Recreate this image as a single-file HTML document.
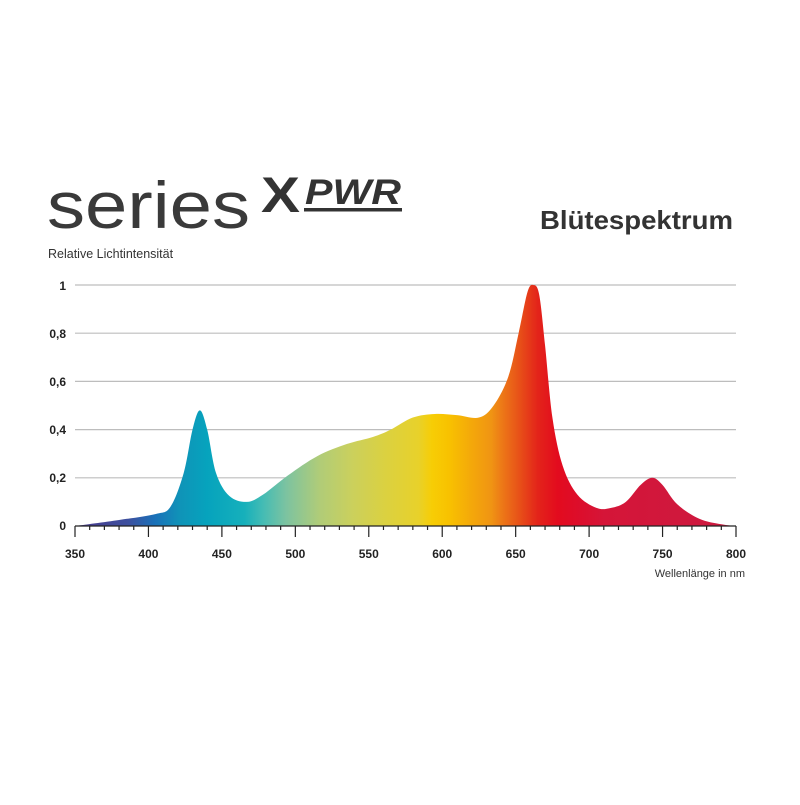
<!DOCTYPE html>
<html><head><meta charset="utf-8"><style>
html,body{margin:0;padding:0;background:#fff;}
body{width:800px;height:800px;overflow:hidden;position:relative;font-family:"Liberation Sans",sans-serif;color:#333;}
</style></head><body>
<svg id="s" width="800" height="800" viewBox="0 0 800 800" xmlns="http://www.w3.org/2000/svg">
<defs>
<linearGradient id="g" gradientUnits="userSpaceOnUse" x1="75" y1="0" x2="736" y2="0">
<stop offset="0" stop-color="#4a3a8c"/>
<stop offset="0.08" stop-color="#3d4f9e"/>
<stop offset="0.12" stop-color="#1a70b8"/>
<stop offset="0.16" stop-color="#0f94b8"/>
<stop offset="0.2" stop-color="#06a3bd"/>
<stop offset="0.256" stop-color="#16b0bb"/>
<stop offset="0.285" stop-color="#45bcb4"/>
<stop offset="0.32" stop-color="#7dc3a0"/>
<stop offset="0.37" stop-color="#b0cc78"/>
<stop offset="0.42" stop-color="#cbd05c"/>
<stop offset="0.47" stop-color="#dbd140"/>
<stop offset="0.52" stop-color="#e8d12a"/>
<stop offset="0.54" stop-color="#f7cd05"/>
<stop offset="0.565" stop-color="#f8c200"/>
<stop offset="0.6" stop-color="#f4a80a"/>
<stop offset="0.63" stop-color="#f09413"/>
<stop offset="0.645" stop-color="#ed7a17"/>
<stop offset="0.67" stop-color="#e85418"/>
<stop offset="0.7" stop-color="#e3241a"/>
<stop offset="0.73" stop-color="#e30b1e"/>
<stop offset="0.76" stop-color="#dd0d2a"/>
<stop offset="0.8" stop-color="#d51538"/>
<stop offset="1" stop-color="#cc1a40"/>
</linearGradient>
</defs>
<g stroke="#bdbdbd" stroke-width="1.2">
<line x1="75" x2="736" y1="285" y2="285"/>
<line x1="75" x2="736" y1="333.2" y2="333.2"/>
<line x1="75" x2="736" y1="381.4" y2="381.4"/>
<line x1="75" x2="736" y1="429.6" y2="429.6"/>
<line x1="75" x2="736" y1="477.8" y2="477.8"/>
</g>
<path id="sp" fill="url(#g)" d=""/>
<g id="ax" stroke="#222" stroke-width="1.2"><line x1="75" x2="736" y1="526" y2="526"/></g>
<g font-size="12" font-weight="bold" fill="#222" text-anchor="end">
<text x="66" y="290">1</text>
<text x="66" y="338">0,8</text>
<text x="66" y="386">0,6</text>
<text x="66" y="434">0,4</text>
<text x="66" y="482">0,2</text>
<text x="66" y="530">0</text>
</g>
<g id="xl" font-size="12" font-weight="bold" fill="#222" text-anchor="middle"></g>
<text x="745" y="577" font-size="11" fill="#333" text-anchor="end">Wellenlänge in nm</text>
<text x="48" y="258" font-size="12.5" fill="#333">Relative Lichtintensität</text>
<text x="47" y="228" font-size="66" fill="#3a3a3a" textLength="203" lengthAdjust="spacingAndGlyphs">series</text>
<text x="261" y="212" font-size="50" font-weight="bold" fill="#333" textLength="39" lengthAdjust="spacingAndGlyphs">X</text>
<text x="305" y="204" font-size="35" font-weight="bold" font-style="italic" fill="#333" textLength="96" lengthAdjust="spacingAndGlyphs">PWR</text>
<rect x="304" y="208" width="98" height="3.5" fill="#333"/>
<text x="733" y="229" font-size="26" font-weight="bold" fill="#333" text-anchor="end" textLength="193" lengthAdjust="spacingAndGlyphs">Blütespektrum</text>
</svg>
<script>
var P=[[350,0],[380,0.025],[405,0.05],[415,0.08],[424,0.22],[430,0.4],[435,0.48],[440,0.4],[446,0.22],[455,0.125],[467,0.1],[478,0.13],[495,0.21],[515,0.29],[535,0.34],[553,0.37],[565,0.4],[580,0.45],[595,0.465],[610,0.46],[625,0.45],[635,0.5],[645,0.62],[652,0.8],[658,0.97],[662,1.0],[666,0.96],[670,0.75],[675,0.45],[682,0.25],[692,0.13],[705,0.075],[715,0.075],[725,0.1],[735,0.17],[743,0.2],[750,0.17],[760,0.09],[775,0.03],[790,0.007],[800,0]];
function X(n){return 75+(n-350)*661/450;}
function Y(v){return 526-v*241;}
var pts=P.map(function(p){return [X(p[0]),Y(p[1])];});
var d="M"+X(350)+",526 L"+pts[0][0]+","+pts[0][1];
for(var i=0;i<pts.length-1;i++){
 var p0=pts[Math.max(0,i-1)],p1=pts[i],p2=pts[i+1],p3=pts[Math.min(pts.length-1,i+2)];
 var c1=[p1[0]+(p2[0]-p0[0])/6,p1[1]+(p2[1]-p0[1])/6];
 var c2=[p2[0]-(p3[0]-p1[0])/6,p2[1]-(p3[1]-p1[1])/6];
 if(c1[1]>526)c1[1]=526; if(c2[1]>526)c2[1]=526;
 d+=" C"+c1[0].toFixed(2)+","+c1[1].toFixed(2)+" "+c2[0].toFixed(2)+","+c2[1].toFixed(2)+" "+p2[0].toFixed(2)+","+p2[1].toFixed(2);
}
d+=" Z";
document.getElementById("sp").setAttribute("d",d);
var ns="http://www.w3.org/2000/svg",ax=document.getElementById("ax"),xl=document.getElementById("xl");
for(var n=350;n<=800;n+=10){
 var l=document.createElementNS(ns,"line"),x=X(n),maj=(n%50==0);
 l.setAttribute("x1",x);l.setAttribute("x2",x);l.setAttribute("y1",526);l.setAttribute("y2",maj?537:530);
 ax.appendChild(l);
 if(maj){var t=document.createElementNS(ns,"text");t.setAttribute("x",x);t.setAttribute("y",558);t.textContent=n;xl.appendChild(t);}
}
</script>
</body></html>
